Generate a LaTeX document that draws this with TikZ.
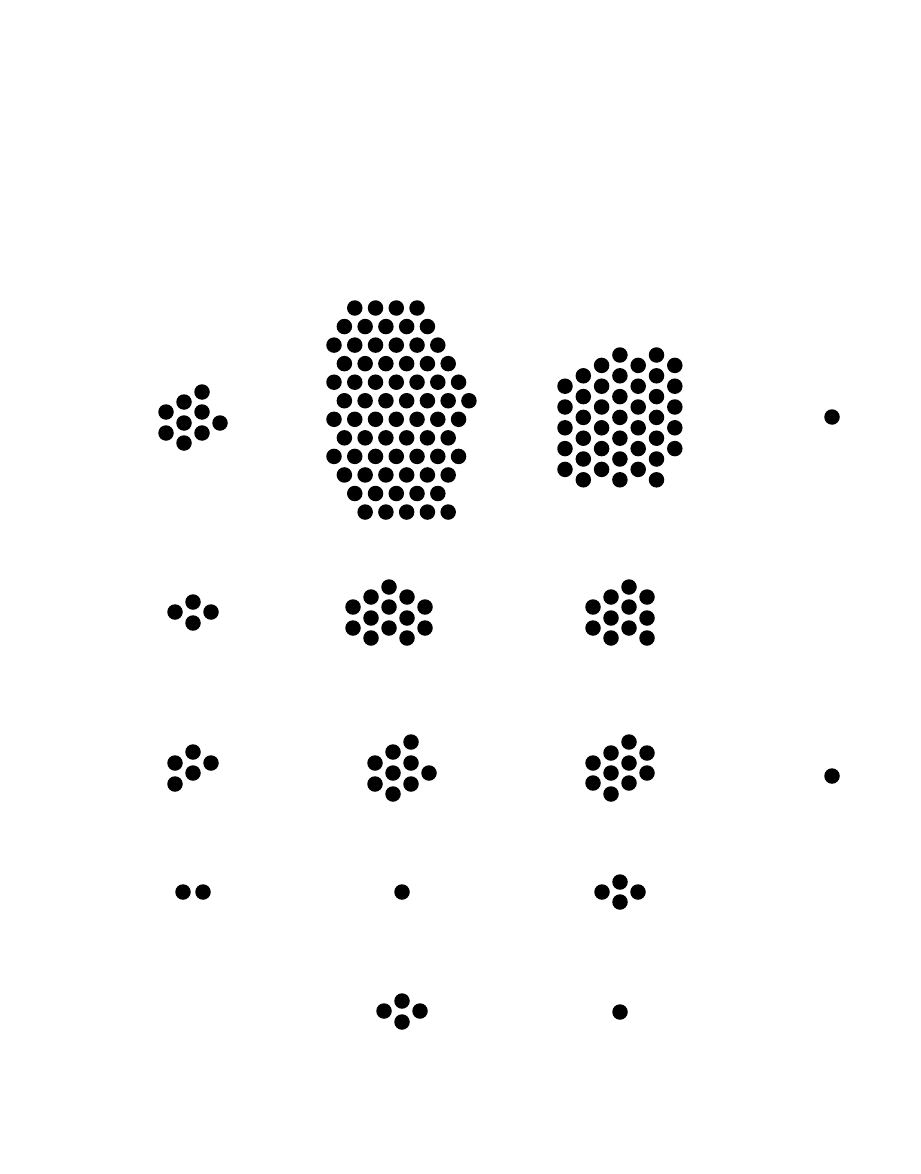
\documentclass[tikz,border=0pt]{standalone}
\usetikzlibrary{positioning}
\tikzset{
  bead/.style={circle,fill=black,draw=none,inner sep=0pt,minimum size=15.5pt},
}
\begin{document}
\begin{tikzpicture}[x=1pt,y=-1pt]
  \useasboundingbox (0,-1) rectangle (920,1173);
  % top row
  \foreach \p [count=\i] in {(202,391),(184,401),(166,411),(202,411),(184,422),(220,422),(166,432),(202,432),(184,442)}
    \node[bead] (a\i) at \p {};
  \foreach \ks [count=\r] in {{2,4,6,8},{1,3,5,7,9},{0,2,4,6,8,10},{1,3,5,7,9,11},{0,2,4,6,8,10,12},{1,3,5,7,9,11,13},{0,2,4,6,8,10,12},{1,3,5,7,9,11},{0,2,4,6,8,10,12},{1,3,5,7,9,11},{2,4,6,8,10},{3,5,7,9,11}}
    \foreach \k in \ks
      \node[bead] (b\r-\k) at ({334+10.38*\k},{307+18.55*(\r-1)}) {};
  \foreach \ms [count=\c from 0] in {{3,5,7,9,11},{2,4,6,8,10,12},{1,3,5,7,9,11},{0,2,4,6,8,10,12},{1,3,5,7,9,11},{0,2,4,6,8,10,12},{1,3,5,7,9}}
    \foreach \m in \ms
      \node[bead] (h\c-\m) at ({565+18.3*\c},{354+10.4*\m}) {};
  \node[bead] (s1) at (832,416) {};
  % second row
  \foreach \p [count=\i] in {(175,611),(193,601),(211,611),(193,622)}
    \node[bead] (c\i) at \p {};
  \foreach \p [count=\i] in {(389,586),(371,596),(407,596),(353,606),(389,606),(425,606),(371,617),(407,617),(353,627),(389,627),(425,627),(371,637),(407,637)}
    \node[bead] (d\i) at \p {};
  \foreach \p [count=\i] in {(629,586),(611,596),(647,596),(593,606),(629,606),(611,617),(647,617),(593,627),(629,627),(611,637),(647,637)}
    \node[bead] (e\i) at \p {};
  % third row
  \foreach \p [count=\i] in {(193,751),(175,762),(211,762),(193,772),(175,783)}
    \node[bead] (f\i) at \p {};
  \foreach \p [count=\i] in {(411,741),(393,751),(375,762),(411,762),(393,772),(429,772),(375,783),(411,783),(393,793)}
    \node[bead] (g\i) at \p {};
  \foreach \p [count=\i] in {(629,741),(611,752),(647,752),(593,762),(629,762),(611,772),(647,772),(593,782),(629,782),(611,793)}
    \node[bead] (k\i) at \p {};
  \node[bead] (s2) at (832,775) {};
  % fourth row
  \node[bead] (m1) at (183,891) {};
  \node[bead] (m2) at (203,891) {};
  \node[bead] (s3) at (402,891) {};
  \foreach \p [count=\i] in {(602,891),(620,881),(638,891),(620,901)}
    \node[bead] (n\i) at \p {};
  % fifth row
  \foreach \p [count=\i] in {(384,1010),(402,1000),(420,1010),(402,1021)}
    \node[bead] (q\i) at \p {};
  \node[bead] (s4) at (620,1011) {};
\end{tikzpicture}
\end{document}
